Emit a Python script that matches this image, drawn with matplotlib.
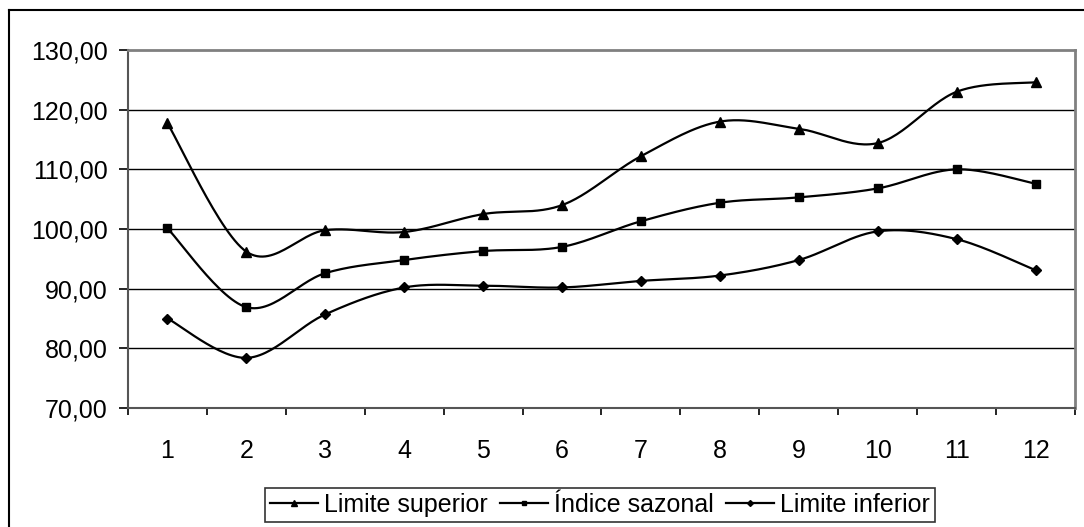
import numpy as np
import matplotlib
matplotlib.use("Agg")
import matplotlib.pyplot as plt
from matplotlib.lines import Line2D

# Dados
meses = list(range(1, 13))
limite_superior = [117.7, 96.2, 99.8, 99.5, 102.5, 104.0, 112.2, 118.0, 116.8, 114.4, 123.0, 124.6]
indice_sazonal = [100.1, 86.9, 92.6, 94.8, 96.3, 97.0, 101.3, 104.4, 105.3, 106.8, 110.0, 107.6]
limite_inferior = [85.0, 78.4, 85.7, 90.2, 90.5, 90.2, 91.3, 92.2, 94.8, 99.6, 98.3, 93.1]
y_ticks = [70, 80, 90, 100, 110, 120, 130]

plt.rcParams["font.family"] = ["Liberation Sans", "DejaVu Sans"]
FS = 18


def suavizar(x, y, n=30):
    """Curva suave tipo Excel (Bezier com pontos de controle Catmull-Rom)."""
    p = np.column_stack([x, y]).astype(float)
    p = np.vstack([p[0], p, p[-1]])
    t = np.linspace(0, 1, n)[:, None]
    pts = []
    for i in range(1, len(p) - 2):
        p0, p1, p2, p3 = p[i - 1], p[i], p[i + 1], p[i + 2]
        c1 = p1 + (p2 - p0) / 6
        c2 = p2 - (p3 - p1) / 6
        seg = ((1 - t) ** 3) * p1 + 3 * ((1 - t) ** 2) * t * c1 + 3 * (1 - t) * t ** 2 * c2 + t ** 3 * p2
        pts.append(seg if i == 1 else seg[1:])
    pts = np.vstack(pts)
    return pts[:, 0], pts[:, 1]


fig = plt.figure(figsize=(10.84, 5.27), dpi=100)
ax = fig.add_axes([128 / 1084, 1 - 408 / 527, 947 / 1084, 358 / 527])

series = [
    ("Limite superior", limite_superior, "^", 7),
    ("Índice sazonal", indice_sazonal, "s", 6),
    ("Limite inferior", limite_inferior, "D", 5),
]

handles = []
for nome, vals, mk, ms in series:
    xs, ys = suavizar(meses, vals)
    ax.plot(xs, ys, color="black", lw=1.6, zorder=3)
    ax.plot(meses, vals, ls="none", marker=mk, ms=ms, color="black", zorder=4)
    handles.append(Line2D([], [], color="black", lw=1.6, marker=mk, ms=ms * 0.6, label=nome))

ax.set_xlim(0.5, 12.5)
ax.set_ylim(70, 130)
ax.set_yticks(y_ticks)
ax.set_yticklabels([f"{v:.2f}".replace(".", ",") for v in y_ticks], fontsize=FS)
ax.set_xticks(meses)
ax.set_xticklabels([str(m) for m in meses], fontsize=FS)
ax.set_xticks(np.arange(0.5, 13, 1), minor=True)
ax.tick_params(axis="x", which="major", length=0, pad=22)
ax.tick_params(axis="x", which="minor", length=5, direction="out", width=1.2, color="black")
ax.tick_params(axis="y", length=6.5, direction="out", width=1.2, pad=8, color="black")

for v in y_ticks[1:-1]:
    ax.axhline(v, color="black", lw=1, zorder=1)

for s in ["top", "right"]:
    ax.spines[s].set_color("#808080")
    ax.spines[s].set_linewidth(2)
for s in ["left", "bottom"]:
    ax.spines[s].set_color("#555555")
    ax.spines[s].set_linewidth(1.5)

leg = fig.legend(handles=handles, loc="center", bbox_to_anchor=(600 / 1084, 1 - 505 / 527),
                 ncol=3, fontsize=FS, frameon=True, fancybox=False, handlelength=1.9,
                 handletextpad=0.25, columnspacing=0.5, borderpad=0.2, borderaxespad=0)
leg.get_frame().set_edgecolor("black")
leg.get_frame().set_linewidth(1.2)

# borda externa do gráfico (cortada à direita e embaixo)
fig.add_artist(Line2D([9 / 1084, 9 / 1084], [0, 1 - 10 / 527], color="black", lw=1.5))
fig.add_artist(Line2D([9 / 1084, 1], [1 - 10 / 527, 1 - 10 / 527], color="black", lw=1.5))

fig.savefig("out.png", dpi=100)
